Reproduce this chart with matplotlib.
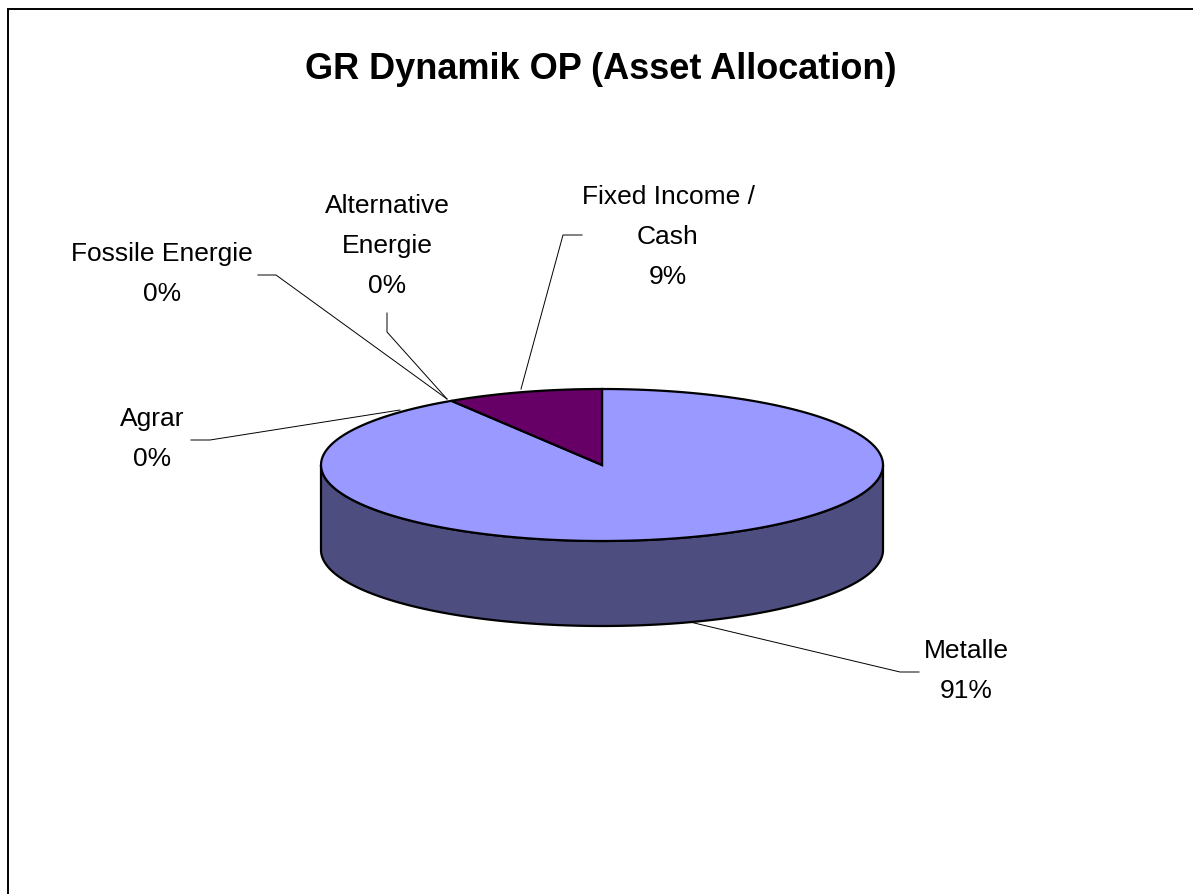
import numpy as np
import matplotlib
matplotlib.use("Agg")
import matplotlib.pyplot as plt
from matplotlib.patches import Polygon

# Chart values
categories = ["Metalle", "Agrar", "Fossile Energie", "Alternative\nEnergie", "Fixed Income /\nCash"]
shares = [91, 0, 0, 0, 9]
top_colors = ["#9999ff", "#993366", "#ffffcc", "#ccffff", "#660066"]
side_colors = ["#4d4d80", "#4d1a33", "#808066", "#668080", "#330033"]
title = "GR Dynamik OP (Asset Allocation)"

# Layout in pixels of the original picture
W, H = 1193, 895
CX, CY = 602, 466
RX, RY = 281, 76
DEPTH = 85

# label centre, then leader line running from the label to the pie
label_pos = [(966, 671), (152, 439), (162, 274), (387, 246), (668, 237)]
leaders = [
    [(919, 673), (900, 673), (690, 623)],
    [(191, 441), (210, 441), (400, 411)],
    [(258, 276), (276, 276), (447, 400)],
    [(387, 314), (387, 333), (447, 400)],
    [(582, 236), (563, 236), (521, 390)],
]


def rim(t):
    # t is clockwise from 12 o'clock
    return CX + RX * np.sin(t), CY - RY * np.cos(t)


def main() -> None:
    plt.rcParams["font.family"] = ["Liberation Sans", "DejaVu Sans"]
    fig = plt.figure(figsize=(W / 100, H / 100), dpi=100)
    ax = fig.add_axes([0, 0, 1, 1])
    ax.set_xlim(0, W)
    ax.set_ylim(H, 0)
    ax.axis("off")

    ax.plot([8, 8, W], [H, 10, 10], color="black", lw=1.4, solid_joinstyle="miter")
    ax.text(601, 69, title, ha="center", va="center", fontsize=26, fontweight="bold")

    total = sum(shares)
    ends = np.cumsum(shares) / total * 2 * np.pi
    starts = np.concatenate([[0], ends[:-1]])

    # side wall, only the part of each slice facing the viewer
    for start, end, share, color in zip(starts, ends, shares, side_colors):
        lo, hi = max(start, np.pi / 2), min(end, 3 * np.pi / 2)
        if share == 0 or lo >= hi:
            continue
        t = np.linspace(lo, hi, 200)
        x, y = rim(t)
        pts = np.column_stack([np.r_[x, x[::-1]], np.r_[y, y[::-1] + DEPTH]])
        ax.add_patch(Polygon(pts, closed=True, facecolor=color, edgecolor="black", lw=1.6, zorder=2))

    # top face
    for start, end, share, color in zip(starts, ends, shares, top_colors):
        if share == 0:
            continue
        t = np.linspace(start, end, 300)
        x, y = rim(t)
        pts = np.column_stack([np.r_[CX, x], np.r_[CY, y]])
        ax.add_patch(Polygon(pts, closed=True, facecolor=color, edgecolor="black", lw=1.6, zorder=3))

    for name, share, pos, leader in zip(categories, shares, label_pos, leaders):
        ax.text(pos[0], pos[1], f"{name}\n{share}%", ha="center", va="center",
                fontsize=19, linespacing=1.85, color="black", zorder=5)
        lx, ly = zip(*leader)
        ax.plot(lx, ly, color="black", lw=0.7, zorder=4)

    fig.savefig("out.png", dpi=100, facecolor="white")
    plt.close(fig)


if __name__ == "__main__":
    main()
